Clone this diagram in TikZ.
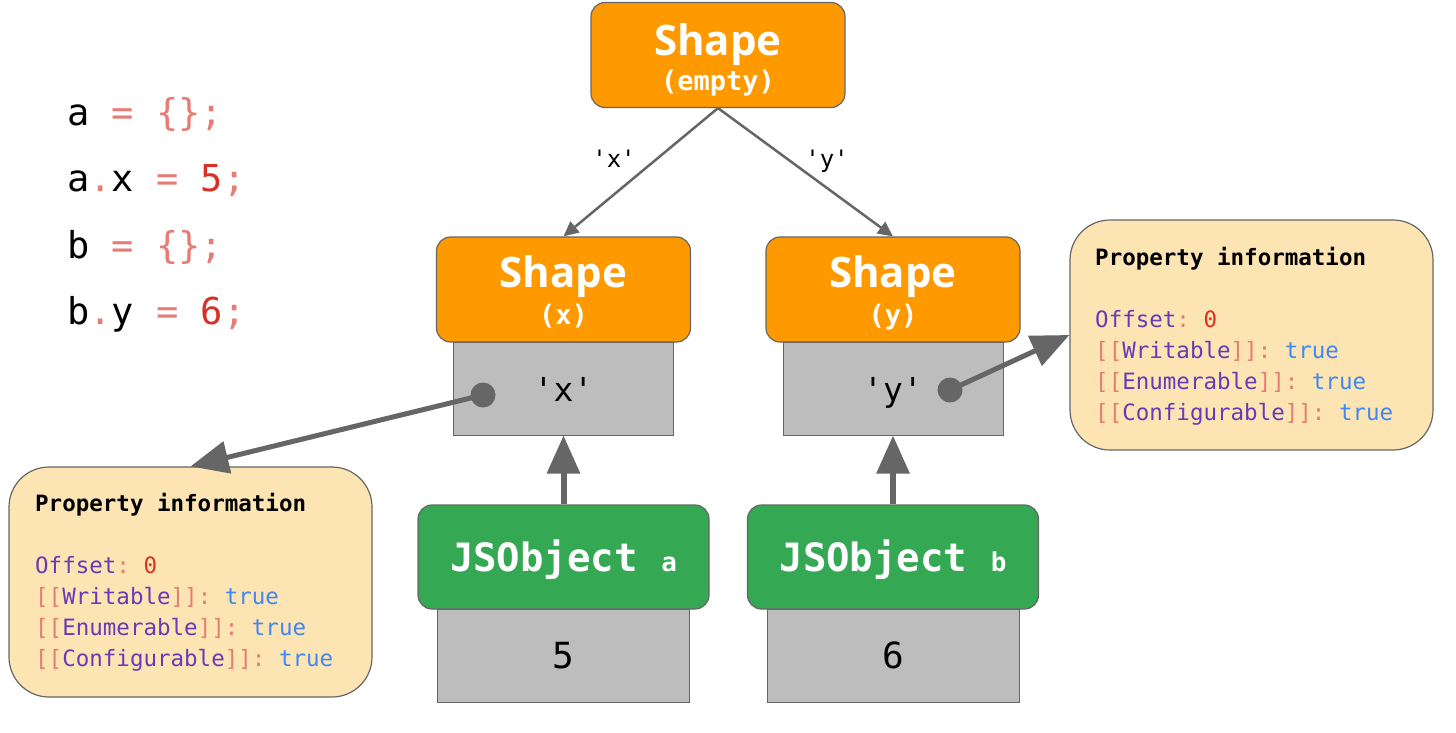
\documentclass[tikz,border=0pt]{standalone}
\usepackage{fontspec}
\setmonofont{DejaVu Sans Mono}
\newfontfamily\hdfont{Open Sans}
\usetikzlibrary{arrows.meta}
\definecolor{shapeor}{HTML}{FF9900}
\definecolor{jsgreen}{HTML}{34A853}
\definecolor{cellgray}{HTML}{BDBDBD}
\definecolor{edgegray}{HTML}{666666}
\definecolor{propfill}{HTML}{FCE5B3}
\definecolor{salm}{HTML}{E67C73}
\definecolor{numred}{HTML}{D93025}
\definecolor{keypurple}{HTML}{673AB7}
\definecolor{valblue}{HTML}{4285F4}
\newcommand{\fsz}[1]{\fontsize{#1}{#1}\selectfont}
\newcommand{\sal}[1]{\textcolor{salm}{#1}}
\newcommand{\kpu}[1]{\textcolor{keypurple}{#1}}
\newcommand{\vbl}[1]{\textcolor{valblue}{#1}}
\newcommand{\nrd}[1]{\textcolor{numred}{#1}}
\tikzset{
  shapebox/.style={draw=edgegray, line width=1.2pt, fill=shapeor, rounded corners=14pt,
    minimum width=254pt, minimum height=105pt, inner sep=0pt},
  jsbox/.style={draw=edgegray, line width=1.2pt, fill=jsgreen, rounded corners=14pt,
    minimum width=291pt, minimum height=104pt, inner sep=0pt, text=white,
    font=\ttfamily\bfseries, text height=28pt, text depth=0pt},
  cellbox/.style={draw=edgegray, line width=1pt, fill=cellgray, minimum width=220pt,
    minimum height=93pt, inner sep=0pt},
  propbox/.style={draw=edgegray, line width=1.2pt, fill=propfill, rounded corners=40pt,
    minimum width=363pt, minimum height=230pt, inner sep=0pt},
  dotnode/.style={circle, fill=edgegray, minimum size=25pt, inner sep=0pt},
  shapetitle/.style={text=white, font=\hdfont\bfseries\fsz{42}, inner sep=0pt},
  shapesub/.style={text=white, font=\ttfamily\bfseries\fsz{27}, inner sep=0pt},
  elabel/.style={font=\ttfamily\fsz{24}, inner sep=0pt},
  codeline/.style={font=\ttfamily\fsz{37}, inner sep=0pt, anchor=base west},
  proptext/.style={font=\ttfamily\fontsize{22.5}{31}\selectfont, inner sep=0pt, anchor=base west},
  thinarrow/.style={draw=edgegray, line width=2.5pt, -{Triangle[length=15pt,width=14pt]}},
  thickarrow/.style={draw=edgegray, line width=6pt, -{Triangle[length=38pt,width=32pt]}}
}
\begin{document}
\begin{tikzpicture}[x=1pt,y=-1pt]
\path[use as bounding box, fill=white] (0,0) rectangle (1456,732);

% code
\node[codeline] (c1) at (67,125) {a\sal{\ = \{\};}};
\node[codeline] (c2) at (67,191) {a\sal{.}x\sal{\ = }\nrd{5}\sal{;}};
\node[codeline] (c3) at (67,258) {b\sal{\ = \{\};}};
\node[codeline] (c4) at (67,324) {b\sal{.}y\sal{\ = }\nrd{6}\sal{;}};

% property boxes
\node[propbox] (pl) at (190.5,582) {};
\node[proptext] (plt) at (35,511) {\begin{tabular}[t]{@{}l@{}}
\textbf{Property information}\\
\\
\kpu{Offset}\sal{:} \nrd{0}\\
\sal{[[}\kpu{Writable}\sal{]]:} \vbl{true}\\
\sal{[[}\kpu{Enumerable}\sal{]]:} \vbl{true}\\
\sal{[[}\kpu{Configurable}\sal{]]:} \vbl{true}
\end{tabular}};
\node[propbox] (pr) at (1251.5,335) {};
\node[proptext] (prt) at (1095,265) {\begin{tabular}[t]{@{}l@{}}
\textbf{Property information}\\
\\
\kpu{Offset}\sal{:} \nrd{0}\\
\sal{[[}\kpu{Writable}\sal{]]:} \vbl{true}\\
\sal{[[}\kpu{Enumerable}\sal{]]:} \vbl{true}\\
\sal{[[}\kpu{Configurable}\sal{]]:} \vbl{true}
\end{tabular}};

% top shape
\node[shapebox] (top) at (718,55) {};
\node[shapetitle, anchor=base] (topt) at (718,55) {Shape};
\node[shapesub, anchor=base] (tops) at (718,90) {(empty)};

% cells under child shapes
\node[cellbox, font=\ttfamily\fsz{33}, text height=26pt, text depth=0pt] (cx) at (563.5,388.5) {'x'};
\node[cellbox, font=\ttfamily\fsz{33}, text height=26pt, text depth=0pt] (cy) at (893,388.5) {'y'};

% child shapes
\node[shapebox] (sx) at (563.5,289.5) {};
\node[shapetitle, anchor=base] (sxt) at (563.5,287) {Shape};
\node[shapesub, anchor=base] (sxs) at (563.5,324) {(x)};
\node[shapebox] (sy) at (893,289.5) {};
\node[shapetitle, anchor=base] (syt) at (893,287) {Shape};
\node[shapesub, anchor=base] (sys) at (893,324) {(y)};

% value cells and JSObjects
\node[cellbox, minimum width=252pt, font=\ttfamily\fsz{36}, text height=25pt, text depth=0pt] (va) at (563.5,655.5) {5};
\node[cellbox, minimum width=252pt, font=\ttfamily\fsz{36}, text height=25pt, text depth=0pt] (vb) at (893,655.5) {6};
\node[jsbox] (ja) at (563.5,557) {\fsz{39}JSObject \fsz{26}a};
\node[jsbox] (jb) at (893,557) {\fsz{39}JSObject \fsz{26}b};

% edge labels
\node[elabel, anchor=base] (lx) at (614,167) {'x'};
\node[elabel, anchor=base] (ly) at (827,167) {'y'};

% transitions
\draw[thinarrow] (top.south) -- (sx.north);
\draw[thinarrow] (top.south) -- (sy.north);

% object to map
\draw[thickarrow] (ja.north) -- (cx.south);
\draw[thickarrow] (jb.north) -- (cy.south);

% dots and property arrows
\node[dotnode] (dx) at (483,395) {};
\node[dotnode] (dy) at (950,390) {};
\draw[thickarrow, line width=5pt] (dx.center) -- (pl.north);
\draw[thickarrow, line width=5pt] (dy.center) -- (pr.west);
\end{tikzpicture}
\end{document}
